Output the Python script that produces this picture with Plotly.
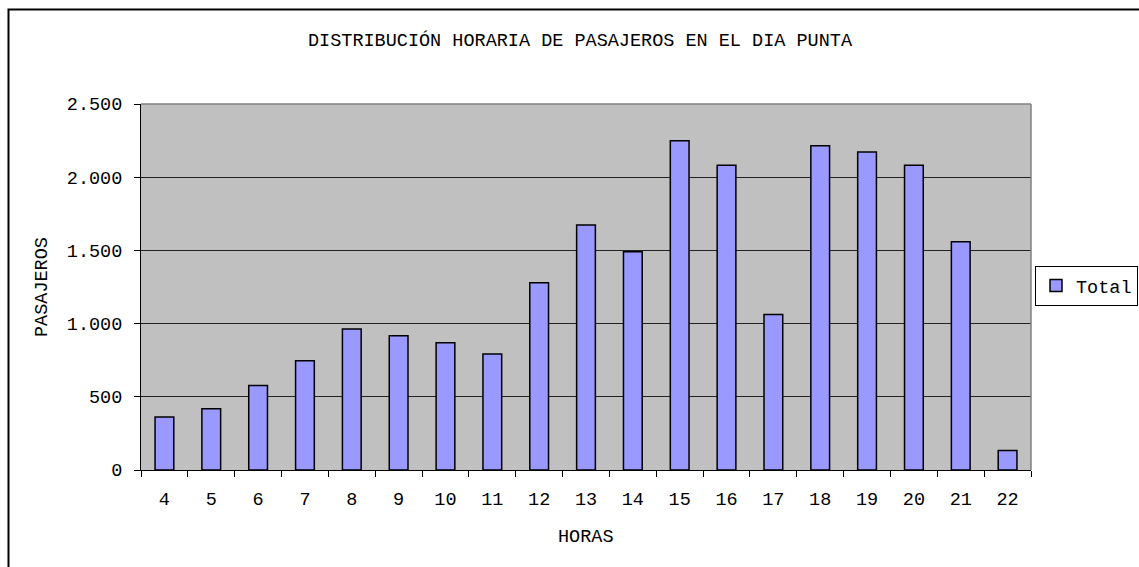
import plotly.graph_objects as go

horas = ["4", "5", "6", "7", "8", "9", "10", "11", "12", "13", "14", "15", "16", "17", "18", "19", "20", "21", "22"]
pasajeros = [362, 419, 578, 747, 963, 917, 870, 792, 1279, 1673, 1491, 2249, 2081, 1063, 2215, 2172, 2081, 1559, 134]
y_ticks = [0, 500, 1000, 1500, 2000, 2500]

FONT = "Liberation Mono, Courier New, monospace"
FS = 18.5
W, H = 1139, 567
# plot area in screen coords: x 141..1031, y 104..470
L, T = 141, 104
R = W - 1031
B = H - 470
PW, PH = W - L - R, H - T - B


def px(x):
    return (x - L) / PW


def py(y):
    return (H - B - y) / PH


fig = go.Figure()
fig.add_trace(go.Bar(
    x=horas, y=pasajeros, name="Total",
    marker=dict(color="#9999FF", line=dict(color="black", width=1.5)),
    showlegend=True,
))

fig.update_layout(
    width=W, height=H,
    margin=dict(l=L, r=R, t=T, b=B, autoexpand=False),
    paper_bgcolor="white",
    plot_bgcolor="#C0C0C0",
    separators=",.",
    bargap=0.6,
    font=dict(family=FONT, size=FS, color="black"),
    title=dict(text="DISTRIBUCIÓN HORARIA DE PASAJEROS EN EL DIA PUNTA",
               x=580 / W, xanchor="center", y=1 - 40 / H, yanchor="middle",
               font=dict(family=FONT, size=FS, color="black")),
    showlegend=True,
    legend=dict(xref="container", yref="container",
                x=1035 / W, y=1 - 286 / H, xanchor="left", yanchor="middle",
                bordercolor="black", borderwidth=1, bgcolor="white",
                font=dict(family=FONT, size=FS), itemwidth=30,
                tracegroupgap=0),
    xaxis=dict(type="category", showgrid=False, ticks="outside", ticklen=6,
               tickcolor="black", tickson="boundaries", showline=True,
               linecolor="black", linewidth=1, zeroline=False,
               ticklabelstandoff=12,
               tickfont=dict(family=FONT, size=FS)),
    yaxis=dict(range=[0, 2500], tickvals=y_ticks, tickformat=",d",
               ticks="outside", ticklen=6, tickcolor="black",
               showgrid=True, gridcolor="#222222", gridwidth=1,
               showline=True, linecolor="black", linewidth=1, zeroline=False,
               ticklabelstandoff=8,
               tickfont=dict(family=FONT, size=FS)),
    annotations=[
        dict(text="PASAJEROS", xref="paper", yref="paper", x=px(42), y=py(287),
             textangle=-90, showarrow=False, xanchor="center", yanchor="middle",
             font=dict(family=FONT, size=FS)),
        dict(text="HORAS", xref="paper", yref="paper", x=px(586), y=py(537),
             showarrow=False, xanchor="center", yanchor="middle",
             font=dict(family=FONT, size=FS)),
    ],
    shapes=[
        dict(type="rect", xref="paper", yref="paper",
             x0=px(8.5), x1=px(1300), y0=py(700), y1=py(9.5),
             line=dict(color="black", width=2), layer="below"),
        dict(type="line", xref="paper", yref="paper", x0=0, x1=1, y0=1, y1=1,
             line=dict(color="#808080", width=1.5)),
        dict(type="line", xref="paper", yref="paper", x0=1, x1=1, y0=0, y1=1,
             line=dict(color="#808080", width=1.5)),
    ],
)

fig.write_html(
    "out.html",
    config={"displayModeBar": False},
    post_script="document.body.style.margin='0';document.body.style.overflow='hidden';",
)
